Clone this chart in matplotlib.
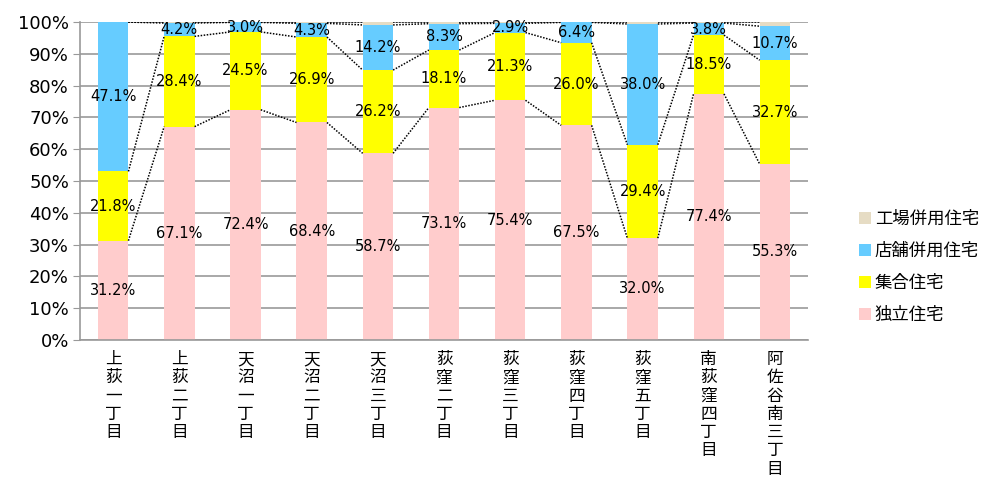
import numpy as np
import matplotlib.pyplot as plt

plt.rcParams['font.family'] = ['Noto Sans CJK JP', 'DejaVu Sans']

areas = ['上荻一丁目', '上荻二丁目', '天沼一丁目', '天沼二丁目', '天沼三丁目',
         '荻窪二丁目', '荻窪三丁目', '荻窪四丁目', '荻窪五丁目', '南荻窪四丁目',
         '阿佐谷南三丁目']

detached = [31.2, 67.1, 72.4, 68.4, 58.7, 73.1, 75.4, 67.5, 32.0, 77.4, 55.3]
apartment = [21.8, 28.4, 24.5, 26.9, 26.2, 18.1, 21.3, 26.0, 29.4, 18.5, 32.7]
shop_home = [47.1, 4.2, 3.0, 4.3, 14.2, 8.3, 2.9, 6.4, 38.0, 3.8, 10.7]
factory_home = [0.0, 0.3, 0.1, 0.4, 0.9, 0.5, 0.4, 0.1, 0.6, 0.3, 1.3]

series = [
    ('独立住宅', detached, '#ffcccc', True),
    ('集合住宅', apartment, '#ffff00', True),
    ('店舗併用住宅', shop_home, '#66ccff', True),
    ('工場併用住宅', factory_home, '#e6dcc4', False),
]

x = np.arange(len(areas))
width = 0.46

fig = plt.figure(figsize=(9.89, 4.8), dpi=100)
ax = fig.add_axes([0.081, 0.292, 0.736, 0.662])

bottom = np.zeros(len(areas))
handles = []
for name, vals, color, labelled in series:
    vals = np.array(vals)
    bars = ax.bar(x, vals, width, bottom=bottom, color=color, label=name, zorder=2)
    handles.append(bars)
    if labelled:
        for xi, b, v in zip(x, bottom, vals):
            ax.text(xi, b + v / 2, f'{v:.1f}%', ha='center', va='center',
                    fontsize=10.5, family='DejaVu Sans', zorder=4)
    top = bottom + vals
    # series lines joining the segment tops of neighbouring bars
    for i in range(len(areas) - 1):
        ax.plot([x[i] + width / 2, x[i + 1] - width / 2], [min(top[i], 100), min(top[i + 1], 100)],
                color='black', lw=1.1, ls=(0, (1, 1)), zorder=3)
    bottom = top

ax.set_xlim(-0.5, len(areas) - 0.5)
ax.set_ylim(0, 100)
ax.set_yticks(np.arange(0, 101, 10))
ax.set_yticklabels([f'{v}%' for v in range(0, 101, 10)], fontsize=13, family='DejaVu Sans')
ax.yaxis.grid(True, color='#999999', lw=1.2, zorder=1)
ax.set_axisbelow(True)

ax.set_xticks(x)
ax.set_xticklabels(['\n'.join(a) for a in areas], fontsize=12, va='top', linespacing=1.1)
ax.tick_params(axis='x', length=0, pad=8)
ax.tick_params(axis='y', length=5, color='#999999', pad=3)

for s in ['top', 'right']:
    ax.spines[s].set_visible(False)
for s in ['left', 'bottom']:
    ax.spines[s].set_color('#999999')
    ax.spines[s].set_linewidth(1.2)

fig.legend(handles[::-1], [s[0] for s in series][::-1], loc='upper left',
           bbox_to_anchor=(0.853, 0.595), frameon=False, fontsize=12.5,
           handlelength=0.7, handleheight=0.7, handletextpad=0.2, labelspacing=0.8)

fig.savefig('out.png', dpi=100)
